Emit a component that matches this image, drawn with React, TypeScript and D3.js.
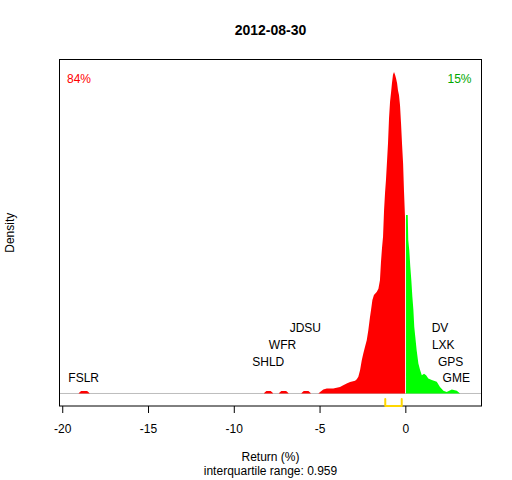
import React, { useEffect, useRef } from "react";
import * as d3 from "d3";

// returns (%) and density, left (red) part
const lossReturns = [
  -19.05, -19.0, -18.9, -18.55, -18.45, -18.4,
  -8.25, -8.2, -8.1, -7.85, -7.75, -7.7,
  -7.38, -7.33, -7.23, -6.95, -6.85, -6.8,
  -6.07, -6.02, -5.92, -5.65, -5.55, -5.5,
  -5.07, -4.97, -4.78, -4.58, -4.2, -3.81, -3.62, -3.42, -3.22, -2.93,
  -2.83, -2.74, -2.64, -2.54, -2.45, -2.35, -2.25, -2.16, -2.06, -2.0,
  -1.92, -1.83, -1.67, -1.57, -1.48, -1.42, -1.36, -1.3, -1.24, -1.18,
  -1.13, -1.07, -1.01, -0.95, -0.89, -0.83, -0.78, -0.72, -0.66, -0.6,
  -0.54, -0.48, -0.43, -0.37, -0.31, -0.25, -0.19, -0.13, -0.08, -0.015,
];
const lossDensity = [
  0, 0.002, 0.0045, 0.0045, 0.002, 0,
  0, 0.002, 0.0045, 0.0045, 0.002, 0,
  0, 0.002, 0.0045, 0.0045, 0.002, 0,
  0, 0.002, 0.0045, 0.0045, 0.002, 0,
  0, 0.003, 0.0075, 0.0094, 0.0094, 0.0123, 0.0155, 0.0187, 0.0217, 0.0236,
  0.0268, 0.0311, 0.0436, 0.0623, 0.0748, 0.0872, 0.0997, 0.118, 0.143, 0.156,
  0.175, 0.184, 0.19, 0.196, 0.212, 0.246, 0.272, 0.293, 0.343, 0.377,
  0.399, 0.433, 0.468, 0.515, 0.546, 0.564, 0.58, 0.596, 0.601, 0.596,
  0.589, 0.58, 0.567, 0.558, 0.539, 0.505, 0.465, 0.43, 0.38, 0.327,
];

// right (green) part
const gainReturns = [
  0.04, 0.07, 0.14, 0.17, 0.23, 0.29, 0.35, 0.41, 0.47, 0.52, 0.58, 0.66,
  0.76, 0.86, 0.96, 1.09, 1.21, 1.34, 1.54, 1.83, 2.02, 2.22, 2.41, 2.71,
  3.0, 3.19,
];
const gainDensity = [
  0.334, 0.334, 0.334, 0.287, 0.268, 0.237, 0.212, 0.181, 0.156, 0.125, 0.106, 0.081,
  0.056, 0.044, 0.034, 0.037, 0.034, 0.028, 0.025, 0.022, 0.012, 0.005, 0.003, 0.0075,
  0.005, 0,
];

// labelled extreme names
const lowNames = ["FSLR", "SHLD", "WFR", "JDSU"];
const lowAt = [-18.75, -7.99, -7.16, -5.83];
const lowRow = [0, 1, 2, 3];
const highNames = ["GME", "GPS", "LXK", "DV"];
const highAt = [2.97, 2.64, 2.21, 2.02];
const highRow = [0, 1, 2, 3];

const xTicks = [-20, -15, -10, -5, 0];
const quartiles = [-1.17, -0.211];
const iqr = 0.959;
const shareDown = "84%";
const shareUp = "15%";
const title = "2012-08-30";

const FONT = "'Liberation Sans', Arial, Helvetica, sans-serif";

export default function App() {
  const svgRef = useRef<SVGSVGElement>(null);

  useEffect(() => {
    const width = 512;
    const height = 480;
    const left = 59.5, right = 481.5, top = 59.5, bottom = 406;

    const svg = d3.select(svgRef.current)
      .attr("width", width)
      .attr("height", height)
      .style("position", "absolute")
      .style("left", 0)
      .style("top", 0)
      .style("background", "#fff");
    svg.selectAll("*").remove();

    const x = d3.scaleLinear().domain([-20.16, 4.44]).range([left, right]);
    const y = d3.scaleLinear().domain([-0.0234, 0.6246]).range([bottom, top]);

    // title
    svg.append("text")
      .attr("x", (left + right) / 2).attr("y", 35)
      .attr("text-anchor", "middle")
      .style("font", `bold 14px ${FONT}`)
      .text(title);

    // zero line
    svg.append("line")
      .attr("x1", left).attr("x2", right)
      .attr("y1", y(0)).attr("y2", y(0))
      .attr("stroke", "#bebebe").attr("stroke-width", 1);

    const area = d3.area<[number, number]>()
      .x(d => x(d[0]))
      .y0(y(0))
      .y1(d => y(d[1]));

    svg.append("path")
      .attr("d", area(lossReturns.map((r, i) => [r, lossDensity[i]] as [number, number])))
      .attr("fill", "#ff0000");
    svg.append("path")
      .attr("d", area(gainReturns.map((r, i) => [r, gainDensity[i]] as [number, number])))
      .attr("fill", "#00ff00");

    // box
    svg.append("rect")
      .attr("x", left).attr("y", top)
      .attr("width", right - left).attr("height", bottom - top)
      .attr("fill", "none").attr("stroke", "#000").attr("stroke-width", 1);

    // interquartile bracket
    const bracket = d3.line<[number, number]>();
    svg.append("path")
      .attr("d", bracket([
        [x(quartiles[0]), 399],
        [x(quartiles[0]), bottom],
        [x(quartiles[1]), bottom],
        [x(quartiles[1]), 399],
      ]))
      .attr("fill", "none").attr("stroke", "#ffd700")
      .attr("stroke-width", 2).attr("stroke-linecap", "round").attr("stroke-linejoin", "round");

    // x axis
    const ax = svg.append("g")
      .attr("transform", `translate(0,${bottom})`)
      .call(d3.axisBottom(x).tickValues(xTicks).tickSize(7).tickSizeOuter(0).tickPadding(11)
        .tickFormat(d => String(d)));
    ax.select(".domain").remove();
    ax.selectAll("line").attr("stroke", "#000");
    ax.selectAll("text").style("font", `12px ${FONT}`).attr("fill", "#000");

    svg.append("text")
      .attr("x", (left + right) / 2).attr("y", 461)
      .attr("text-anchor", "middle")
      .style("font", `12px ${FONT}`)
      .text("Return (%)");
    svg.append("text")
      .attr("x", (left + right) / 2).attr("y", 475)
      .attr("text-anchor", "middle")
      .style("font", `12px ${FONT}`)
      .text(`interquartile range: ${iqr}`);

    svg.append("text")
      .attr("transform", `translate(14,${(top + bottom) / 2}) rotate(-90)`)
      .attr("text-anchor", "middle")
      .style("font", `12px ${FONT}`)
      .text("Density");

    // shares
    svg.append("text")
      .attr("x", left + 7.5).attr("y", 82.5)
      .style("font", `12px ${FONT}`).attr("fill", "#ff0000")
      .text(shareDown);
    svg.append("text")
      .attr("x", right - 10).attr("y", 82.5)
      .attr("text-anchor", "end")
      .style("font", `12px ${FONT}`).attr("fill", "#00a800")
      .text(shareUp);

    // names
    const rowY = (r: number) => 382.3 - 16.7 * r;
    const names = svg.append("g").style("font", `12px ${FONT}`).attr("text-anchor", "middle");
    lowNames.forEach((n, i) => {
      names.append("text").attr("x", x(lowAt[i])).attr("y", rowY(lowRow[i])).text(n);
    });
    highNames.forEach((n, i) => {
      names.append("text").attr("x", x(highAt[i])).attr("y", rowY(highRow[i])).text(n);
    });
  }, []);

  return (
    <div>
      <svg ref={svgRef}></svg>
    </div>
  );
}
